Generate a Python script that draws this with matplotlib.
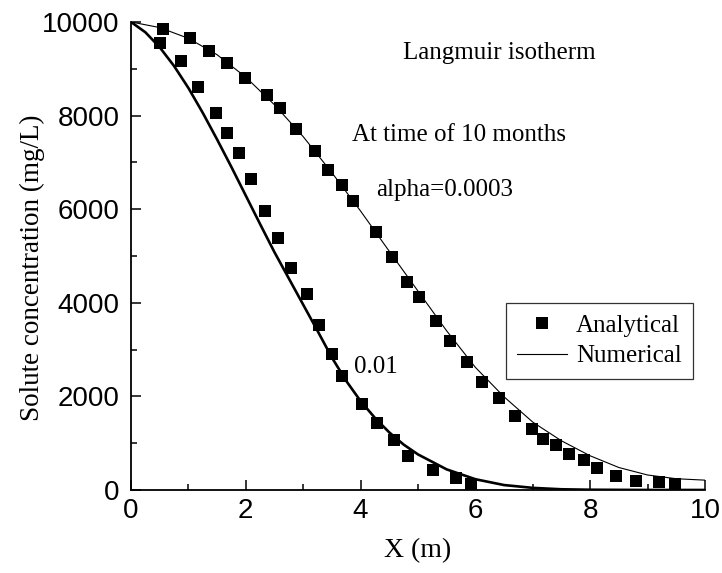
import numpy as np
import matplotlib.pyplot as plt
from matplotlib.ticker import MultipleLocator

# analytical solution, alpha = 0.0003
ana_x_a = [0.56, 1.02, 1.36, 1.68, 1.99, 2.37, 2.60, 2.87, 3.21, 3.44, 3.68, 3.86,
           4.27, 4.55, 4.81, 5.02, 5.31, 5.56, 5.86, 6.11, 6.42, 6.69, 6.99, 7.18,
           7.40, 7.64, 7.90, 8.12, 8.45, 8.79, 9.20, 9.48]
ana_c_a = [9845, 9653, 9381, 9125, 8798, 8434, 8157, 7722, 7251, 6832, 6511, 6176,
           5507, 4973, 4445, 4130, 3612, 3191, 2742, 2315, 1959, 1581, 1310, 1096,
           955, 776, 641, 463, 306, 199, 164, 122]

# analytical solution, alpha = 0.01
ana_x_b = [0.51, 0.88, 1.17, 1.48, 1.68, 1.88, 2.09, 2.34, 2.56, 2.79, 3.06, 3.28,
           3.51, 3.68, 4.03, 4.29, 4.59, 4.83, 5.26, 5.67, 5.92]
ana_c_b = [9559, 9168, 8619, 8050, 7623, 7195, 6640, 5962, 5379, 4751, 4180, 3526,
           2900, 2436, 1838, 1425, 1069, 733, 427, 250, 122]

# numerical solution, alpha = 0.0003
num_x_a = [0, 0.5, 1.0, 1.5, 2.0, 2.5, 3.0, 3.5, 4.0, 4.5, 5.0, 5.5, 6.0, 6.5,
           7.0, 7.5, 8.0, 8.5, 9.0, 9.5, 10.0]
num_c_a = [10000, 9880, 9650, 9300, 8820, 8230, 7550, 6780, 5960, 5100, 4250, 3400,
           2620, 1990, 1450, 1050, 730, 480, 320, 240, 210]

# numerical solution, alpha = 0.01
num_x_b = [0, 0.25, 0.5, 0.75, 1.0, 1.25, 1.5, 1.75, 2.0, 2.25, 2.5, 2.75, 3.0,
           3.25, 3.5, 3.75, 4.0, 4.25, 4.5, 4.75, 5.0, 5.5, 6.0, 6.5, 7.0, 7.5,
           8.0, 9.0, 10.0]
num_c_b = [10000, 9780, 9460, 9060, 8590, 8060, 7490, 6900, 6290, 5680, 5080, 4520,
           3960, 3400, 2830, 2330, 1900, 1540, 1230, 970, 760, 440, 230, 105, 45, 15,
           5, 0, 0]

serif = 'Liberation Serif'
sans = 'Liberation Sans'

fig = plt.figure(figsize=(7.22, 5.73), dpi=100)
ax = fig.add_axes([0.1814, 0.1449, 0.795, 0.8168])

ax.plot(ana_x_a, ana_c_a, 's', color='black', ms=8.6, mew=0, label='Analytical')
ax.plot(ana_x_b, ana_c_b, 's', color='black', ms=8.6, mew=0)
ax.plot(num_x_a, num_c_a, '-', color='black', lw=0.8, label='Numerical')
ax.plot(num_x_b, num_c_b, '-', color='black', lw=1.9)

ax.set_xlim(0, 10)
ax.set_ylim(0, 10000)
ax.xaxis.set_major_locator(MultipleLocator(2))
ax.xaxis.set_minor_locator(MultipleLocator(1))
ax.yaxis.set_major_locator(MultipleLocator(2000))
ax.yaxis.set_minor_locator(MultipleLocator(1000))
ax.spines['top'].set_visible(False)
ax.spines['right'].set_visible(False)
ax.spines['left'].set_linewidth(1.3)
ax.spines['bottom'].set_linewidth(1.3)
ax.tick_params(which='major', direction='in', length=7, width=1.1, pad=8)
ax.tick_params(which='minor', direction='in', length=4, width=1.1)
for lab in ax.get_xticklabels() + ax.get_yticklabels():
    lab.set_fontfamily(sans)
    lab.set_fontsize(20)
ax.tick_params(axis='x', pad=6)

ax.set_xlabel('X (m)', fontfamily=serif, fontsize=20)
ax.set_ylabel('Solute concentration (mg/L)', fontfamily=serif, fontsize=19.5)
ax.xaxis.set_label_coords(0.5, -0.103)
ax.yaxis.set_label_coords(-0.15, 0.474)

ax.text(4.74, 9339, 'Langmuir isotherm', fontfamily=serif, fontsize=18, va='center')
ax.text(3.85, 7587, 'At time of 10 months', fontfamily=serif, fontsize=18, va='center')
ax.text(4.27, 6411, 'alpha=0.0003', fontfamily=serif, fontsize=18, va='center')
ax.text(3.88, 2629, '0.01', fontfamily=serif, fontsize=18, va='center')

leg = ax.legend(loc='upper right', bbox_to_anchor=(0.979, 0.40), numpoints=1,
                prop={'family': serif, 'size': 18}, fancybox=False, framealpha=1,
                edgecolor='#333333', handlelength=2.0, handletextpad=0.35,
                borderpad=0.45, labelspacing=0.33, borderaxespad=0)
leg.get_frame().set_linewidth(0.9)

plt.savefig('out.png', dpi=100)
